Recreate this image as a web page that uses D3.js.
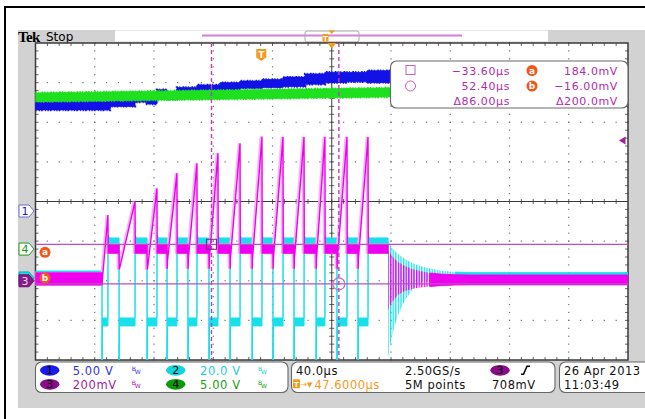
<!DOCTYPE html>
<html>
<head>
<meta charset="utf-8">
<script src="https://cdn.jsdelivr.net/npm/d3@7"></script>
<style>
  body { margin: 0; background: #fff; }
  svg { display: block; font-family: "DejaVu Sans", sans-serif; }
</style>
</head>
<body>
<svg id="scope" width="645" height="419"></svg>
<script>
// scope settings
const chNames = ["1", "2", "3", "4"]
const chScaleText = ["5.00 V", "20.0 V", "200mV", "5.00 V"]
const chPerDiv = [5, 20, 200, 5]              // V/div, ch3 in mV/div
const chPosDiv = [-0.24, -1.93, -2.0, -1.2]   // ground marker, div from centre
const timePerDiv = 40                         // µs
const trigDelay = 47.6                        // µs, screen centre after trigger
const trigLevel = 708                         // mV on ch3

// cursors
const cursorTimes = [-33.60, 52.40]
const cursorLevels = [184.0, -16.00]
const cursorTimeText = ["\u221233.60\u00b5s", "52.40\u00b5s", "\u039486.00\u00b5s"]
const cursorLevelText = ["184.0mV", "\u221216.00mV", "\u0394200.0mV"]

// switching edges in µs from trigger
const onTimes  = [-107.5, -96.0, -77.1, -63.6, -49.5, -35.3, -21.1, -6.2, 7.9, 22.1, 37.0, 51.1, 65.3]
const offTimes = [-103.5, -85.2, -70.4, -56.9, -43.4, -29.2, -14.3, 0.5, 14.7, 28.9, 43.0, 57.9, 72.1]
const ch3RampStart = [10, 60, 60, 100, 110, 110, 110, 110, 110, 110, 110, 110, 110]   // mV
const ch3Peak = [332, 400, 467, 543, 593, 644, 694, 728, 726, 726, 727, 727, 726]     // mV

// levels as [high, low] of the noise band
const ch3Idle = [39, -21], ch3Plateau = [182, 140], ch3Dip = 60
const ch2Idle = [3.5, 2.5], ch2High = [20.2, 17.2], ch2Low = [-20.2, -24.2], ch2Spike = -45

// ringing after the burst stops
const ringTimes = [85.6, 88.3, 92.3, 97.1, 101.8, 107.2, 114.0, 120.7, 130.9, 141.0]
const ch2RingHi = [18.7, 15.1, 12.1, 9.6, 7.6, 6.1, 4.8, 3.8, 3.0, 2.8]
const ch2RingLo = [-40.4, -28.8, -18.7, -11.1, -6.1, -2.5, -0.5, 0.5, 1.3, 1.5]
const ch3RingHi = [155, 125, 95, 74, 59, 49, 39, 34, 30, 29]
const ch3RingLo = [-148, -107, -72, -52, -42, -34, -29, -25, -22, -21]

// ch1 (blue) steps and ch4 (green) band, volts
const ch1Times = [-152.4, -102.1, -85.2, -77.1, -70.4, -63.6, -56.9, -43.4, -27.8, -14.3, 0.5, 14.7, 29.6, 43.0, 57.9, 71.4, 247.6]
const ch1Hi = [13.8, 14.0, 14.5, 14.0, 15.3, 14.5, 15.6, 15.9, 16.2, 16.4, 16.6, 16.9, 17.3, 17.5, 17.5, 17.7, 17.7]
const ch1Lo = [12.75, 13.2, 13.75, 13.5, 14.6, 14.1, 14.85, 15.05, 15.25, 15.5, 15.6, 15.7, 16.0, 16.2, 16.3, 16.2, 16.2]
const ch4Times = [-152.4, 247.6]
const ch4Hi = [19.7, 20.75]
const ch4Lo = [18.6, 19.6]

// bottom readouts
const horizText = ["40.0\u00b5s", "2.50GS/s", "5M points", "708mV"]
const dateText = ["26 Apr 2013", "11:03:49"]

const colors = {
  ch1: "#1212e6", ch2: "#18e0ea", ch3: "#f000f0", ch4: "#1ee01e",
  orange: "#f59a1a", cursor: "#b02cb0", grid: "#6e6e6e", frame: "#3a3a3a"
}

const plot = { x0: 35.5, x1: 628, y0: 43, y1: 360 }
const divX = (plot.x1 - plot.x0) / 10, divY = (plot.y1 - plot.y0) / 8
const yMid = (plot.y0 + plot.y1) / 2, xMid = (plot.x0 + plot.x1) / 2

const svg = d3.select("#scope")
const defs = svg.append("defs")

const x = d3.scaleLinear()
  .domain([trigDelay - 5 * timePerDiv, trigDelay + 5 * timePerDiv])
  .range([plot.x0, plot.x1])
const tMin = x.domain()[0], tMax = x.domain()[1]

const y = chPerDiv.map((vpd, c) => d3.scaleLinear()
  .domain([(-4 - chPosDiv[c]) * vpd, (4 - chPosDiv[c]) * vpd])
  .range([plot.y1, plot.y0]))

// ---- page frame ----
svg.append("rect").attr("width", 645).attr("height", 419).attr("fill", "#fff")
svg.append("rect").attr("x", 18).attr("y", 30).attr("width", 627).attr("height", 378).attr("fill", "#d2d2d2")
svg.append("path").attr("d", "M5,419V7H645").attr("fill", "none").attr("stroke", "#000").attr("stroke-width", 2)

svg.append("text").attr("x", 18).attr("y", 41.5)
  .style("font-family", "'Liberation Serif', serif").style("font-weight", "bold")
  .style("font-size", "15px").style("letter-spacing", "-0.6px").text("Tek")
svg.append("text").attr("x", 46).attr("y", 41).style("font-size", "12px").text("Stop")

// record view bar
svg.append("rect").attr("x", 115).attr("y", 30.5).attr("width", 433).attr("height", 11).attr("fill", "#fff")
svg.append("line").attr("x1", 202).attr("x2", 462).attr("y1", 35.5).attr("y2", 35.5)
  .attr("stroke", "#d67fd6").attr("stroke-width", 2)
svg.append("rect").attr("x", 305).attr("y", 31).attr("width", 54).attr("height", 11).attr("rx", 2)
  .attr("fill", "none").attr("stroke", "#a8a8a8")
svg.append("rect").attr("x", 322.5).attr("y", 34).attr("width", 6).attr("height", 7.5).attr("rx", 1).attr("fill", colors.orange)
svg.append("text").attr("x", 325.5).attr("y", 40.5).attr("text-anchor", "middle")
  .style("font-size", "7px").style("font-weight", "bold").attr("fill", "#fff").text("T")
svg.append("path").attr("d", "M328.5,30.5H335L331.75,34Z").attr("fill", colors.orange)

// ---- graticule ----
svg.append("rect").attr("x", plot.x0).attr("y", plot.y0)
  .attr("width", plot.x1 - plot.x0).attr("height", plot.y1 - plot.y0).attr("fill", "#fff")

const grid = svg.append("g")
const dots = []
d3.range(1, 10).filter(k => k !== 5).forEach(k => {
  d3.range(0, 41).forEach(j => dots.push([plot.x0 + k * divX, plot.y0 + j * divY / 5]))
})
d3.range(1, 8).filter(k => k !== 4).forEach(k => {
  d3.range(0, 51).forEach(j => dots.push([plot.x0 + j * divX / 5, plot.y0 + k * divY]))
})
grid.selectAll("rect.dot").data(dots).enter().append("rect").attr("class", "dot")
  .attr("x", d => d[0] - 0.6).attr("y", d => d[1] - 0.6).attr("width", 1.2).attr("height", 1.2)
  .attr("fill", colors.grid)

grid.append("line").attr("x1", plot.x0).attr("x2", plot.x1).attr("y1", yMid).attr("y2", yMid)
  .attr("stroke", colors.frame)
grid.append("line").attr("x1", xMid).attr("x2", xMid).attr("y1", plot.y0).attr("y2", plot.y1)
  .attr("stroke", colors.frame)

const tickPath = []
d3.range(1, 50).forEach(j => {
  const tx = plot.x0 + j * divX / 5
  tickPath.push(`M${tx},${yMid - 2.5}V${yMid + 2.5}`)
  tickPath.push(`M${tx},${plot.y0}v3M${tx},${plot.y1}v-3`)
})
d3.range(1, 40).forEach(j => {
  const ty = plot.y0 + j * divY / 5
  tickPath.push(`M${xMid - 2.5},${ty}H${xMid + 2.5}`)
  tickPath.push(`M${plot.x0},${ty}h3M${plot.x1},${ty}h-3`)
})
grid.append("path").attr("d", tickPath.join("")).attr("stroke", colors.frame).attr("stroke-width", 0.8)
grid.append("rect").attr("x", plot.x0).attr("y", plot.y0)
  .attr("width", plot.x1 - plot.x0).attr("height", plot.y1 - plot.y0)
  .attr("fill", "none").attr("stroke", colors.frame).attr("stroke-width", 1.5)

// ---- traces ----
defs.append("clipPath").attr("id", "plotClip").append("rect")
  .attr("x", plot.x0).attr("y", plot.y0).attr("width", plot.x1 - plot.x0).attr("height", plot.y1 - plot.y0)

function stripes(id, color) {
  const p = defs.append("pattern").attr("id", id).attr("patternUnits", "userSpaceOnUse")
    .attr("width", 2.6).attr("height", 10)
  p.append("rect").attr("width", 1.3).attr("height", 10).attr("fill", color)
}
stripes("cyanStripes", colors.ch2)
stripes("magStripes", colors.ch3)

const band = ys => d3.area().x(d => x(d.t)).y0(d => ys(d.lo)).y1(d => ys(d.hi))
const traces = svg.append("g").attr("clip-path", "url(#plotClip)")

// noisy look for the slow channels: a broken outline around the band
function roughBand(pts, ys, color, curve) {
  const a = band(ys)
  if (curve) a.curve(curve)
  traces.append("path").datum(pts).attr("d", a)
    .attr("fill", color).attr("stroke", color).attr("stroke-width", 0.8)
  traces.append("path").datum(pts).attr("d", a)
    .attr("fill", "none").attr("stroke", color).attr("stroke-width", 2.4)
    .attr("stroke-dasharray", "1.2,1.6,0.8,2.4,1.6,1.2")
}

// ch1 blue
const ch1Pts = ch1Times.map((t, i) => ({ t, hi: ch1Hi[i], lo: ch1Lo[i] }))
roughBand(ch1Pts, y[0], colors.ch1, d3.curveStepAfter)

// ch4 green
const ch4Pts = ch4Times.map((t, i) => ({ t, hi: ch4Hi[i], lo: ch4Lo[i] }))
roughBand(ch4Pts, y[3], colors.ch4)

// ch2 cyan: switch node
const ch2Pts = [{ t: tMin, hi: ch2Idle[0], lo: ch2Idle[1] }]
onTimes.forEach((on, i) => {
  const off = offTimes[i], prev = i === 0 ? ch2Idle : ch2High
  ch2Pts.push({ t: on, hi: prev[0], lo: prev[1] })
  ch2Pts.push({ t: on + 0.05, hi: ch2Spike, lo: ch2Spike })
  ch2Pts.push({ t: on + 0.3, hi: ch2Low[0], lo: ch2Low[1] })
  ch2Pts.push({ t: off, hi: ch2Low[0], lo: ch2Low[1] })
  ch2Pts.push({ t: off + 0.05, hi: ch2High[0] + 1.5, lo: ch2High[1] })
  ch2Pts.push({ t: off + 1, hi: ch2High[0], lo: ch2High[1] })
})
ch2Pts.push({ t: ringTimes[0], hi: ch2High[0], lo: ch2High[1] })
traces.append("path").datum(ch2Pts).attr("d", band(y[1]))
  .attr("fill", colors.ch2).attr("stroke", colors.ch2).attr("stroke-width", 1)

const ch2Ring = ringTimes.map((t, i) => ({ t, hi: ch2RingHi[i], lo: ch2RingLo[i] }))
traces.append("path").datum(ch2Ring).attr("d", band(y[1])).attr("fill", "url(#cyanStripes)")
const ch2Tail = ch2Ring.slice(8).concat([{ t: tMax, hi: ch2RingHi[9], lo: ch2RingLo[9] }])
traces.append("path").datum(ch2Tail).attr("d", band(y[1]))
  .attr("fill", colors.ch2).attr("stroke", colors.ch2).attr("stroke-width", 0.8)

// ch3 magenta: current sense
const ch3Pts = [{ t: tMin, hi: ch3Idle[0], lo: ch3Idle[1] }]
onTimes.forEach((on, i) => {
  const off = offTimes[i], prev = i === 0 ? ch3Idle : ch3Plateau
  ch3Pts.push({ t: on, hi: prev[0], lo: prev[1] })
  if (i > 0) ch3Pts.push({ t: on + 0.1, hi: ch3Dip, lo: ch3Dip })
  ch3Pts.push({ t: on + 0.3, hi: ch3RampStart[i], lo: ch3RampStart[i] })
  ch3Pts.push({ t: off, hi: ch3Peak[i], lo: ch3Peak[i] })
  ch3Pts.push({ t: off + 0.15, hi: ch3Plateau[0], lo: ch3Plateau[1] })
})
ch3Pts.push({ t: ringTimes[0], hi: ch3Plateau[0], lo: ch3Plateau[1] })

// pale persistence echo next to the ramps
traces.append("path").datum(ch3Pts).attr("d", band(y[2]))
  .attr("transform", "translate(-1.3,0)")
  .attr("fill", "#f6b4f6").attr("stroke", "#f6b4f6").attr("stroke-width", 2.2)
traces.append("path").datum(ch3Pts).attr("d", band(y[2]))
  .attr("fill", colors.ch3).attr("stroke", colors.ch3).attr("stroke-width", 1.4)

const ch3Ring = ringTimes.map((t, i) => ({ t, hi: ch3RingHi[i], lo: ch3RingLo[i] }))
traces.append("path").datum(ch3Ring).attr("d", band(y[2])).attr("fill", "url(#magStripes)")
const ch3Tail = ch3Ring.slice(6).concat([{ t: tMax, hi: ch3RingHi[9], lo: ch3RingLo[9] }])
traces.append("path").datum(ch3Tail).attr("d", band(y[2]))
  .attr("fill", colors.ch3).attr("stroke", colors.ch3).attr("stroke-width", 0.8)

// ---- cursors ----
const cur = svg.append("g")
cur.selectAll("line.vc").data(cursorTimes).enter().append("line").attr("class", "vc")
  .attr("x1", d => x(d)).attr("x2", d => x(d)).attr("y1", plot.y0).attr("y2", plot.y1)
  .attr("stroke", "#c03cc0").attr("stroke-width", 1.4).attr("stroke-dasharray", "4,3")
cur.selectAll("line.hc").data(cursorLevels).enter().append("line").attr("class", "hc")
  .attr("x1", plot.x0).attr("x2", plot.x1).attr("y1", d => y[2](d)).attr("y2", d => y[2](d))
  .attr("stroke", "#c04cc0").attr("stroke-width", 1.3)
cur.append("rect").attr("x", x(cursorTimes[0]) - 5).attr("y", y[2](cursorLevels[0]) - 5)
  .attr("width", 10).attr("height", 10).attr("fill", "none").attr("stroke", "#7a2a7a")
cur.append("circle").attr("cx", x(cursorTimes[1])).attr("cy", y[2](cursorLevels[1])).attr("r", 6)
  .attr("fill", "none").attr("stroke", "#cc66cc").attr("stroke-width", 1.2)

function orangeDot(g, cx, cy, label) {
  g.append("circle").attr("cx", cx).attr("cy", cy).attr("r", 5.5).attr("fill", "#f2561a")
  g.append("text").attr("x", cx).attr("y", cy + 3).attr("text-anchor", "middle")
    .style("font-size", "9px").style("font-weight", "bold").attr("fill", "#fff").text(label)
}
orangeDot(cur, 45, y[2](cursorLevels[0]) + 8, "a")
orangeDot(cur, 45, y[2](cursorLevels[1]) - 6, "b")

// trigger markers
const tx0 = x(0)
svg.append("path").attr("d", `M${tx0 - 5},49H${tx0 + 5}V57.5L${tx0},61L${tx0 - 5},57.5Z`).attr("fill", colors.orange)
svg.append("text").attr("x", tx0).attr("y", 58).attr("text-anchor", "middle")
  .style("font-size", "9px").style("font-weight", "bold").attr("fill", "#fff").text("T")
svg.append("path").attr("d", `M${xMid - 4.5},43H${xMid + 4.5}L${xMid},48.5Z`).attr("fill", colors.orange)
const yTrig = y[2](trigLevel)
svg.append("path").attr("d", `M619,${yTrig}L625.5,${yTrig - 4}V${yTrig + 4}Z`).attr("fill", "#a020a0")

// channel markers on the left
function tag(cy, fill, stroke, label, textFill) {
  const g = svg.append("g")
  g.append("path").attr("d", `M19,${cy - 6}H29L34,${cy}L29,${cy + 6}H19Z`)
    .attr("fill", fill).attr("stroke", stroke).attr("stroke-width", 1)
  g.append("text").attr("x", 25).attr("y", cy + 4).attr("text-anchor", "middle")
    .style("font-size", "11px").attr("fill", textFill).text(label)
}
tag(y[1](0), colors.ch2, "#10a8b0", "", "#000")
tag(y[0](0), "#fff", "#6f6fd8", chNames[0], "#1a1ad0")
tag(y[3](0), "#fff", "#1a9a1a", chNames[3], "#1a9a1a")
tag(y[2](0), "#8a1a8a", "#6a106a", chNames[2], "#f0d8f0")

// ---- cursor readout box ----
const rb = svg.append("g")
rb.append("rect").attr("x", 390.5).attr("y", 61).attr("width", 237.5).attr("height", 47).attr("rx", 6)
  .attr("fill", "#fff").attr("stroke", "#6a6a6a").attr("stroke-width", 1.2)
rb.append("rect").attr("x", 406).attr("y", 65.5).attr("width", 9).attr("height", 9)
  .attr("fill", "none").attr("stroke", "#c060c0")
rb.append("circle").attr("cx", 410.5).attr("cy", 86).attr("r", 5).attr("fill", "none").attr("stroke", "#c060c0")
const rowY = [70.5, 86, 100.5]
cursorTimeText.forEach((s, i) => rb.append("text").attr("x", 510).attr("y", rowY[i] + 4)
  .attr("text-anchor", "end").style("font-size", "11px").style("letter-spacing", "0.6px")
  .attr("fill", colors.cursor).text(s))
cursorLevelText.forEach((s, i) => rb.append("text").attr("x", 618).attr("y", rowY[i] + 4)
  .attr("text-anchor", "end").style("font-size", "11px").style("letter-spacing", "0.6px")
  .attr("fill", colors.cursor).text(s))
orangeDot(rb, 532, rowY[0], "a")
orangeDot(rb, 532, rowY[1], "b")

// ---- bottom status bar ----
const bar = svg.append("g")
const r1 = 370.3, r2 = 384.3
;[[35.5, 252.5], [291.5, 263.5], [559.5, 100]].forEach(b => {
  bar.append("rect").attr("x", b[0]).attr("y", 362).attr("width", b[1]).attr("height", 30.5).attr("rx", 6)
    .attr("fill", "#fff").attr("stroke", "#666").attr("stroke-width", 1.1)
})

const chFill = ["#1a1aef", "#12d4df", "#8c0a8c", "#0a9a0a"]
const chText = ["#3434e4", "#22cedb", "#a0209f", "#14a014"]
const chPos = [[49.7, r1, 72.7, 131.7], [175.7, r1, 200, 258], [49.7, r2, 72.7, 131.7], [175.7, r2, 200, 258]]
chPos.forEach((p, c) => {
  bar.append("ellipse").attr("cx", p[0]).attr("cy", p[1]).attr("rx", 9.7).attr("ry", 5.4).attr("fill", chFill[c])
  bar.append("text").attr("x", p[0]).attr("y", p[1] + 4).attr("text-anchor", "middle")
    .style("font-size", "11px").attr("fill", "#000").text(chNames[c])
  bar.append("text").attr("x", p[2]).attr("y", p[1] + 4.2)
    .style("font-size", "11.5px").style("letter-spacing", "0.6px").attr("fill", chText[c]).text(chScaleText[c])
  bar.append("text").attr("x", p[3]).attr("y", p[1] + 0.5).style("font-size", "6px").attr("fill", chText[c]).text("B")
  bar.append("text").attr("x", p[3] + 3).attr("y", p[1] + 4).style("font-size", "6px").attr("fill", chText[c]).text("W")
})

const txt = (xx, yy, s, fill) => bar.append("text").attr("x", xx).attr("y", yy + 4.2)
  .style("font-size", "11.5px").style("letter-spacing", "0.5px").attr("fill", fill || "#111").text(s)
txt(296, r1, horizText[0])
txt(405, r1, horizText[1])
txt(405, r2, horizText[2])
txt(492, r2, horizText[3])
txt(564, r1, dateText[0])
txt(564, r2, dateText[1])

// delay readout with the trigger glyph
bar.append("rect").attr("x", 293).attr("y", r2 - 5).attr("width", 7).attr("height", 9).attr("rx", 1).attr("fill", colors.orange)
bar.append("text").attr("x", 296.5).attr("y", r2 + 3).attr("text-anchor", "middle")
  .style("font-size", "7px").style("font-weight", "bold").attr("fill", "#fff").text("T")
bar.append("text").attr("x", 300.5).attr("y", r2 + 3).style("font-size", "8px").attr("fill", colors.orange).text("\u2192")
bar.append("text").attr("x", 307).attr("y", r2 + 3).style("font-size", "7px").attr("fill", colors.orange).text("\u25bc")
txt(314.5, r2, "47.6000\u00b5s", colors.orange)

// trigger source + slope
bar.append("ellipse").attr("cx", 500).attr("cy", r1).attr("rx", 9.7).attr("ry", 5.4).attr("fill", chFill[2])
bar.append("text").attr("x", 500).attr("y", r1 + 4).attr("text-anchor", "middle")
  .style("font-size", "11px").attr("fill", "#000").text("3")
bar.append("path").attr("d", `M521,${r1 + 4}H523.5L527,${r1 - 4}H530`)
  .attr("fill", "none").attr("stroke", "#000").attr("stroke-width", 1.5)
</script>
</body>
</html>
